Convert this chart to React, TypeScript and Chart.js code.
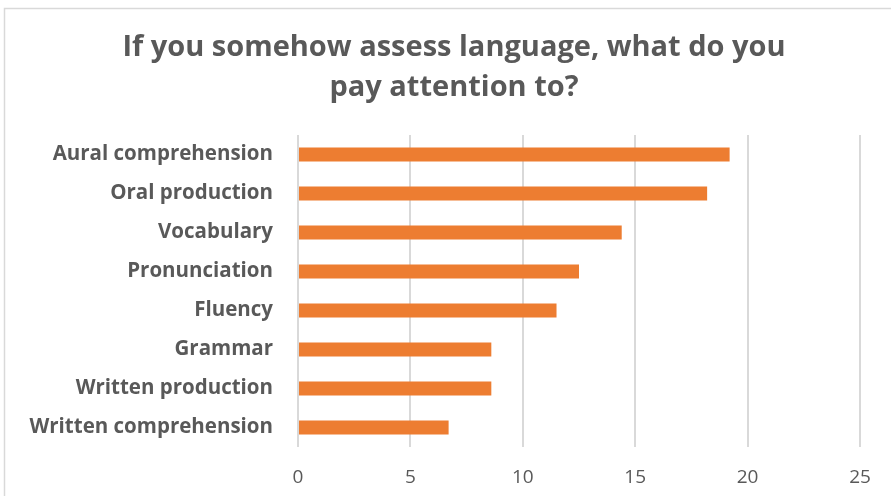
import React, { useEffect, useRef } from "react";
import { Chart, registerables } from "chart.js";

Chart.register(...registerables);

const categories = [
  "Aural comprehension",
  "Oral production",
  "Vocabulary",
  "Pronunciation",
  "Fluency",
  "Grammar",
  "Written production",
  "Written comprehension",
];
const values = [19.2, 18.2, 14.4, 12.5, 11.5, 8.6, 8.6, 6.7];
const xTicks = [0, 5, 10, 15, 20, 25];
const titleLines = ["If you somehow assess language, what do you", "pay attention to?"];

const borderPlugin = {
  id: "outerBorder",
  beforeDraw(chart: any) {
    const ctx = chart.ctx;
    ctx.save();
    ctx.fillStyle = "#ffffff";
    ctx.fillRect(0, 0, chart.width, chart.height);
    ctx.strokeStyle = "#d9d9d9";
    ctx.lineWidth = 1.5;
    ctx.strokeRect(4.5, 8.5, chart.width + 20, chart.height + 20);
    ctx.restore();
  },
};

export default function App() {
  const ref = useRef<HTMLCanvasElement | null>(null);
  useEffect(() => {
    document.body.style.margin = "0";
    const chart = new Chart(ref.current!, {
      type: "bar",
      data: {
        labels: categories,
        datasets: [
          {
            data: values,
            backgroundColor: "#ED7D31",
            borderWidth: 0,
            categoryPercentage: 1,
            barPercentage: 0.36,
            xAxisID: "x",
            yAxisID: "y",
          },
        ],
      },
      options: {
        indexAxis: "y",
        animation: false,
        responsive: false,
        maintainAspectRatio: false,
        layout: { padding: { top: 8, right: 0, left: 17, bottom: 0 } },
        plugins: {
          legend: { display: false },
          tooltip: { enabled: false },
          title: {
            display: true,
            text: titleLines,
            color: "#595959",
            font: { family: "'Open Sans'", size: 29, weight: "bold", lineHeight: 1.38 },
            padding: { top: 20, bottom: 27 },
          },
        },
        scales: {
          x: {
            min: 0,
            max: 25,
            afterBuildTicks(scale: any) {
              scale.ticks = xTicks.map((v) => ({ value: v }));
            },
            afterFit(scale: any) {
              scale.height = 49;
            },
            grid: { color: "#d9d9d9", lineWidth: 2, drawTicks: false },
            border: { display: false },
            ticks: {
              color: "#595959",
              padding: 19,
              font: { family: "'Open Sans'", size: 19 },
            },
          },
          y: {
            afterFit(scale: any) {
              scale.width = 281;
            },
            grid: { display: false, drawTicks: false },
            border: { display: false },
            ticks: {
              color: "#595959",
              padding: 25,
              font: { family: "'Open Sans'", size: 20.5, weight: "bold" },
            },
          },
          spacer: {
            type: "linear",
            position: "right",
            afterFit(scale: any) {
              scale.width = 31;
            },
            grid: { display: false, drawTicks: false },
            border: { display: false },
            ticks: { display: false },
          },
        },
      },
      plugins: [borderPlugin],
    });
    return () => chart.destroy();
  }, []);
  return (
    <div style={{ position: "relative", width: 891, height: 496 }}>
      <canvas ref={ref} width={891} height={496} style={{ display: "block" }} />
    </div>
  );
}
